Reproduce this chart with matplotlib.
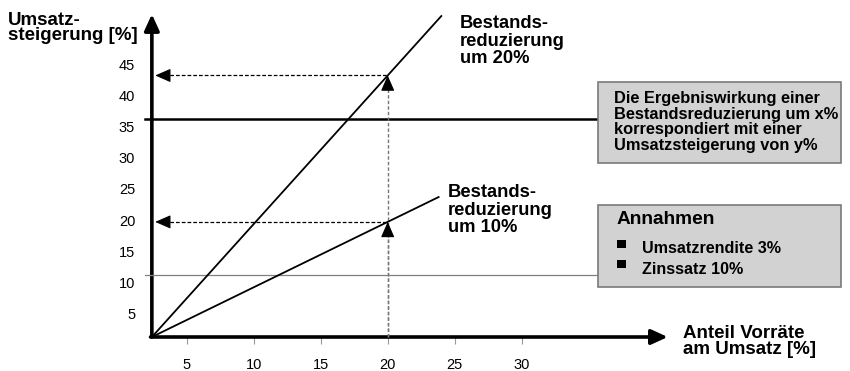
import numpy as np
import matplotlib
matplotlib.use("Agg")
import matplotlib.pyplot as plt
from matplotlib.patches import Rectangle
from matplotlib.transforms import ScaledTranslation

plt.rcParams['font.family'] = ['Liberation Sans', 'DejaVu Sans']

# ---- data -------------------------------------------------------------
x_ticks = [5, 10, 15, 20, 25, 30]
y_ticks = [5, 10, 15, 20, 25, 30, 35, 40, 45]

axis_x0 = 2.4          # share of inventories where both axes meet
axis_x_end = 40.9
axis_y_end = 51.9

# effect lines: inventory share -> sales increase
line20_x = [2.4, 24.0]
line20_y = [0.0, 51.6]
line10_x = [2.4, 23.8]
line10_y = [0.0, 22.5]

read_x = 20            # reading example at 20 % inventory share
ref_high = 35          # reference levels with attached boxes
ref_low = 10
ref_left = 1.9
box_left = 35.7
box_right = 53.8
box1_y = [28.0, 41.0]
box2_y = [8.0, 21.2]

# ---- figure -----------------------------------------------------------
W, H = 850, 371
fig = plt.figure(figsize=(W / 100, H / 100), dpi=100)
ax = fig.add_axes([0, 0, 1, 1])
sx, x0px = 13.4, 119.7
sy, y0px = 6.22, 337.0
ax.set_xlim(-x0px / sx, (W - x0px) / sx)
ax.set_ylim((y0px - H) / sy, y0px / sy)

for s in ax.spines.values():
    s.set_visible(False)
ax.spines['bottom'].set_position(('data', 0))
ax.spines['left'].set_position(('data', axis_x0))

ax.set_xticks(x_ticks)
ax.set_xticklabels([str(v) for v in x_ticks], fontsize=10.5)
ax.tick_params(axis='x', length=5, width=0.8, color='#999999', pad=10)
ax.set_yticks(y_ticks)
ax.set_yticklabels([str(v) for v in y_ticks], fontsize=10.5)
ax.tick_params(axis='y', length=0, pad=12)
shift = ScaledTranslation(0, -7.5 / 100, fig.dpi_scale_trans)
for lab in ax.get_yticklabels():
    lab.set_transform(lab.get_transform() + shift)

# axes with arrow heads
axis_arrow = dict(arrowstyle='-|>,head_length=0.7,head_width=0.32', lw=2.6,
                  color='black', mutation_scale=14, shrinkA=0, shrinkB=0)
ax.annotate('', xy=(axis_x0, axis_y_end), xytext=(axis_x0, 0), arrowprops=axis_arrow)
ax.annotate('', xy=(axis_x_end, 0), xytext=(axis_x0 - 0.1, 0), arrowprops=axis_arrow)

# reference levels
ax.plot([ref_left, box_left], [ref_high, ref_high], color='black', lw=1.8, zorder=3)
ax.plot([ref_left, box_left], [ref_low, ref_low], color='#808080', lw=0.9, zorder=3)

# effect lines
ax.plot(line20_x, line20_y, color='black', lw=1.3, zorder=4)
ax.plot(line10_x, line10_y, color='black', lw=1.3, zorder=4)

# reading example
head = dict(arrowstyle='-|>,head_length=0.8,head_width=0.35', lw=0.8,
            color='black', mutation_scale=12, shrinkA=0, shrinkB=0)
for lx, ly in [(line20_x, line20_y), (line10_x, line10_y)]:
    yv = float(np.interp(read_x, lx, ly))
    ax.plot([read_x, read_x], [0, yv - 1.0], color='#777777', lw=1.0,
            ls=(0, (2.5, 1.5)), zorder=3)
    ax.plot([axis_x0 + 0.9, read_x], [yv, yv], color='black', lw=0.9,
            ls=(0, (3, 1.6)), zorder=3)
    ax.annotate('', xy=(read_x, yv), xytext=(read_x, yv - 1.9), arrowprops=head)
    ax.annotate('', xy=(axis_x0 + 0.25, yv), xytext=(axis_x0 + 1.1, yv), arrowprops=head)

# info boxes
for (b0, b1) in (box1_y, box2_y):
    ax.add_patch(Rectangle((box_left, b0), box_right - box_left, b1 - b0,
                           facecolor='#d2d2d2', edgecolor='#7a7a7a', lw=1.2, zorder=3))


def fx(px):
    return px / W


def fy(py):
    return 1 - py / H


bold = dict(fontweight='bold', va='top', ha='left')
fig.text(fx(8), fy(12), 'Umsatz-\nsteigerung [%]', fontsize=13.5, linespacing=0.85, **bold)
fig.text(fx(460), fy(15), 'Bestands-\nreduzierung\num 20%', fontsize=13.2, linespacing=1.04, **bold)
fig.text(fx(448), fy(184), 'Bestands-\nreduzierung\num 10%', fontsize=13.2, linespacing=1.04, **bold)
fig.text(fx(683), fy(325), 'Anteil Vorräte\nam Umsatz [%]', fontsize=13.5, linespacing=0.93, **bold)
fig.text(fx(614), fy(91), 'Die Ergebniswirkung einer\nBestandsreduzierung um x%\n'
         'korrespondiert mit einer\nUmsatzsteigerung von y%',
         fontsize=11.8, linespacing=1.06, **bold)
fig.text(fx(617), fy(211), 'Annahmen', fontsize=13.8, **bold)
fig.text(fx(642), fy(241), 'Umsatzrendite 3%', fontsize=11.6, **bold)
fig.text(fx(642), fy(262), 'Zinssatz 10%', fontsize=11.6, **bold)
for top in (240, 260):
    fig.add_artist(Rectangle((fx(617), fy(top + 8)), 9 / W, 8 / H,
                             transform=fig.transFigure, facecolor='black',
                             edgecolor='none', zorder=5))

fig.savefig('out.png', dpi=100)
